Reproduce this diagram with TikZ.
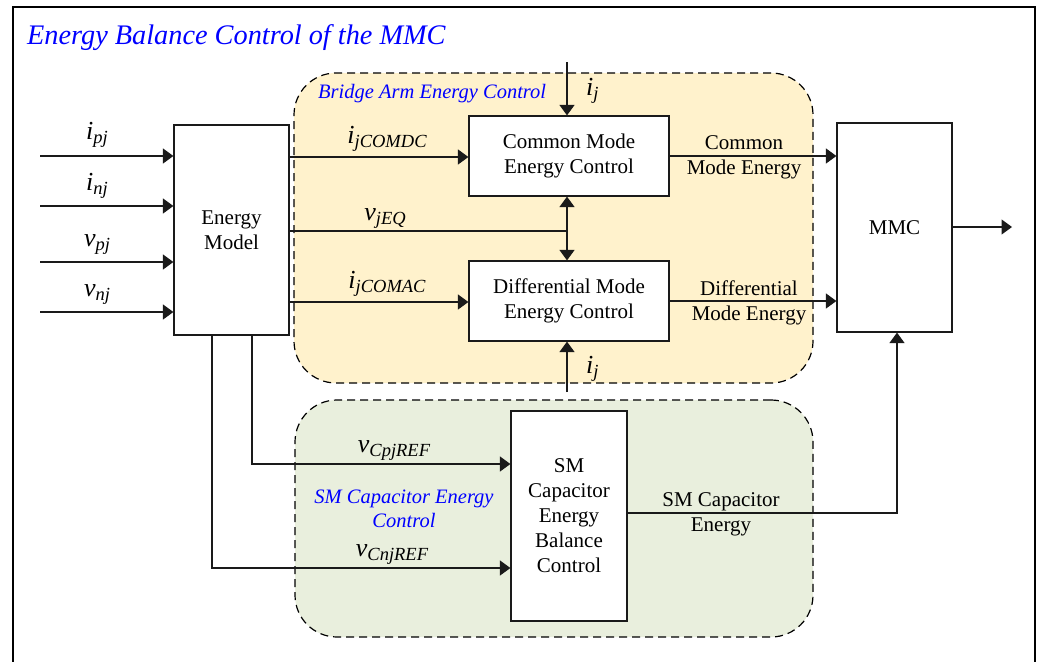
\documentclass[tikz,border=0pt]{standalone}
\usepackage{fontspec}
\setmainfont{Liberation Serif}
\usetikzlibrary{arrows.meta}
% signal name with italic subscript
\newcommand\sig[2]{{\fontsize{26}{26}\selectfont\itshape #1}\raisebox{-4.5pt}{\fontsize{18.5}{18.5}\selectfont\itshape #2}}
\definecolor{armfill}{HTML}{FFF2CC}
\definecolor{capfill}{HTML}{E9EFDD}
\definecolor{linecol}{HTML}{1A1A1A}
\begin{document}
\begin{tikzpicture}[x=1pt,y=-1pt,
  box/.style={draw=linecol, line width=1.2pt, fill=white, inner sep=0pt, align=center,
    font=\fontsize{21}{25}\selectfont},
  region/.style={draw=black, line width=1.2pt, dash pattern=on 8pt off 5pt,
    rounded corners=42pt, inner sep=0pt},
  wire/.style={draw=linecol, line width=1.2pt},
  arr/.style={wire, -{Triangle[length=10.5pt,width=15pt]}},
  lbl/.style={inner sep=0pt, anchor=base},
  txt/.style={inner sep=0pt, align=center, font=\fontsize{21}{25}\selectfont},
  group/.style={inner sep=0pt, text=blue, align=center, font=\fontsize{20.5}{24.5}\selectfont\itshape}]
\useasboundingbox (0,0) rectangle (1040,661);
\draw[line width=2pt] (13,7) rectangle (1035,700);

\node[anchor=base west, inner sep=0pt, text=blue, font=\fontsize{28.3}{30}\selectfont\itshape]
  (title) at (27,45) {Energy Balance Control of the MMC};

% dashed groups
\node[region, fill=armfill, minimum width=519pt, minimum height=310pt] (arm) at (553.5,228) {};
\node[region, fill=capfill, minimum width=518pt, minimum height=237pt] (cap) at (554,518.5) {};
\node[group, anchor=base west] (armlbl) at (318,98) {Bridge Arm Energy Control};
\node[group] (caplbl) at (404,509) {SM Capacitor Energy\\Control};

% blocks
\node[box, minimum width=115pt, minimum height=210pt] (em) at (231.5,230) {Energy\\Model};
\node[box, minimum width=200pt, minimum height=80pt] (cm) at (569,156) {Common Mode\\Energy Control};
\node[box, minimum width=200pt, minimum height=80pt] (dm) at (569,301) {Differential Mode\\Energy Control};
\node[box, minimum width=115pt, minimum height=209pt] (mmc) at (894.5,227.5) {MMC};
\node[box, minimum width=116pt, minimum height=210pt] (smb) at (569,516) {SM\\Capacitor\\Energy\\Balance\\Control};

% measured inputs
\coordinate (ipj) at (40,156);
\coordinate (inj) at (40,206);
\coordinate (vpj) at (40,262);
\coordinate (vnj) at (40,312);
\draw[arr] (ipj) -- (ipj -| em.west);
\draw[arr] (inj) -- (inj -| em.west);
\draw[arr] (vpj) -- (vpj -| em.west);
\draw[arr] (vnj) -- (vnj -| em.west);
\node[lbl] (lipj) at (97,139) {\sig{i}{pj}};
\node[lbl] (linj) at (97,190) {\sig{i}{nj}};
\node[lbl] (lvpj) at (97,246) {\sig{v}{pj}};
\node[lbl] (lvnj) at (97,296) {\sig{v}{nj}};

% energy model to arm controllers
\coordinate (dc) at (289,157);
\coordinate (eq) at (289,231);
\coordinate (ac) at (289,302);
\coordinate (jn) at (567,231);
\draw[arr] (dc) -- (dc -| cm.west);
\draw[arr] (ac) -- (ac -| dm.west);
\draw[wire] (eq) -- (jn);
\draw[arr] (jn) -- (jn |- cm.south);
\draw[arr] (jn) -- (jn |- dm.north);
\node[lbl] (ldc) at (387,143) {\sig{i}{jCOMDC}};
\node[lbl] (leq) at (385,220) {\sig{v}{jEQ}};
\node[lbl] (lac) at (387,288) {\sig{i}{jCOMAC}};

% arm current inputs
\coordinate (ijtop) at (567,62);
\coordinate (ijbot) at (567,392);
\draw[arr] (ijtop) -- (ijtop |- cm.north);
\draw[arr] (ijbot) -- (ijbot |- dm.south);
\node[lbl, anchor=base west] (lijt) at (586,95) {\sig{i}{j}};
\node[lbl, anchor=base west] (lijb) at (586,373) {\sig{i}{j}};

% arm controllers to MMC
\draw[arr] (cm.east |- 0,156) -- (mmc.west |- 0,156);
\draw[arr] (dm.east |- 0,301) -- (mmc.west |- 0,301);
\node[txt] (lcme) at (744,157) {Common\\Mode Energy};
\node[txt] (ldme) at (749,303) {Differential\\Mode Energy};

% capacitor references
\coordinate (cpj) at (252,464);
\coordinate (cnj) at (212,568);
\draw[arr] (em.south -| cpj) -- (cpj) -- (cpj -| smb.west);
\draw[arr] (em.south -| cnj) -- (cnj) -- (cnj -| smb.west);
\node[lbl] (lcpj) at (394,452) {\sig{v}{CpjREF}};
\node[lbl] (lcnj) at (392,556) {\sig{v}{CnjREF}};

% capacitor balance to MMC
\coordinate (capout) at (897,513);
\draw[arr] (smb.east |- capout) -- (capout) -- (capout |- mmc.south);
\node[txt] (lsme) at (721,514) {SM Capacitor\\Energy};

% MMC output
\coordinate (out) at (1012,227);
\draw[arr] (mmc.east |- out) -- (out);
\end{tikzpicture}
\end{document}
